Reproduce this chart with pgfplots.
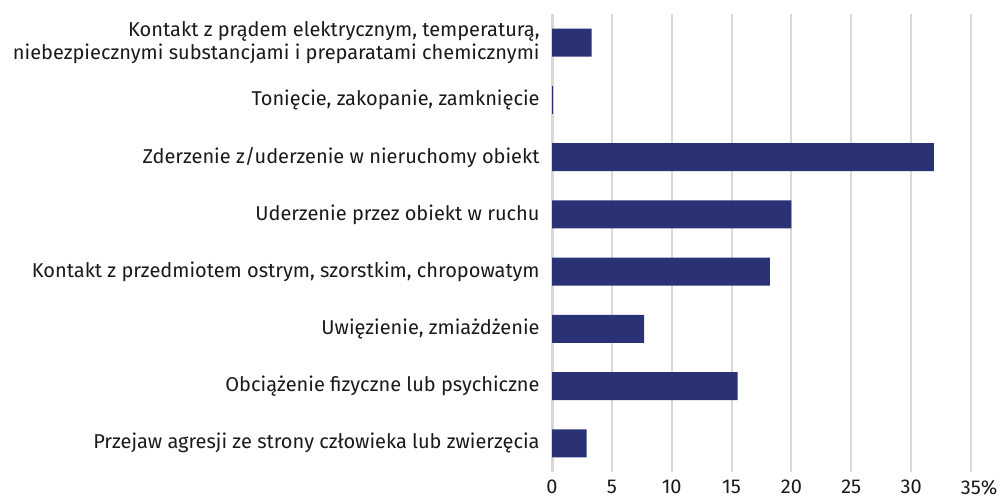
\documentclass[border=0pt]{standalone}
\usepackage{fontspec}
\setmainfont{Fira Sans}
\usepackage{pgfplots}
\pgfplotsset{compat=1.18}
\definecolor{barblue}{HTML}{2A3275}
\definecolor{gridgray}{HTML}{D9D9D9}
\definecolor{txt}{HTML}{1A1A1A}
\begin{document}
\begin{tikzpicture}
\useasboundingbox (0,0) rectangle (500pt,250pt);
\begin{axis}[
  at={(276pt,14pt)}, anchor=south west,
  scale only axis, width=209.5pt, height=229pt,
  xmin=0, xmax=35, ymin=-0.5, ymax=7.5, y dir=reverse,
  xtick={0,5,...,35},
  xticklabels={0,5,10,15,20,25,30,35\rlap{\%}},
  ytick={0,...,7},
  yticklabels={{Kontakt z prądem elektrycznym, temperaturą,\\niebezpiecznymi substancjami i preparatami chemicznymi},
    {Tonięcie, zakopanie, zamknięcie},
    {Zderzenie z/uderzenie w nieruchomy obiekt},
    {Uderzenie przez obiekt w ruchu},
    {Kontakt z przedmiotem ostrym, szorstkim, chropowatym},
    {Uwięzienie, zmiażdżenie},
    {Obciążenie fizyczne lub psychiczne},
    {Przejaw agresji ze strony człowieka lub zwierzęcia}},
  axis line style={draw=none},
  major tick length=0pt,
  xmajorgrids, grid style={gridgray, line width=1pt},
  tick label style={font=\fontsize{10}{10}\selectfont, text=txt},
  yticklabel style={align=right, inner sep=0pt, xshift=-6pt},
  xticklabel style={inner sep=0pt, yshift=-4pt},
  /pgf/number format/assume math mode=true,
  xbar, bar width=14pt,
  clip=false,
]
\draw[gridgray, line width=1.5pt] (axis cs:0,-0.5) -- (axis cs:0,7.5);
\addplot[fill=barblue, draw=none] coordinates {
  (3.3,0) (0.1,1) (31.9,2) (20.0,3) (18.2,4) (7.7,5) (15.5,6) (2.9,7)
};
\end{axis}
\end{tikzpicture}
\end{document}
